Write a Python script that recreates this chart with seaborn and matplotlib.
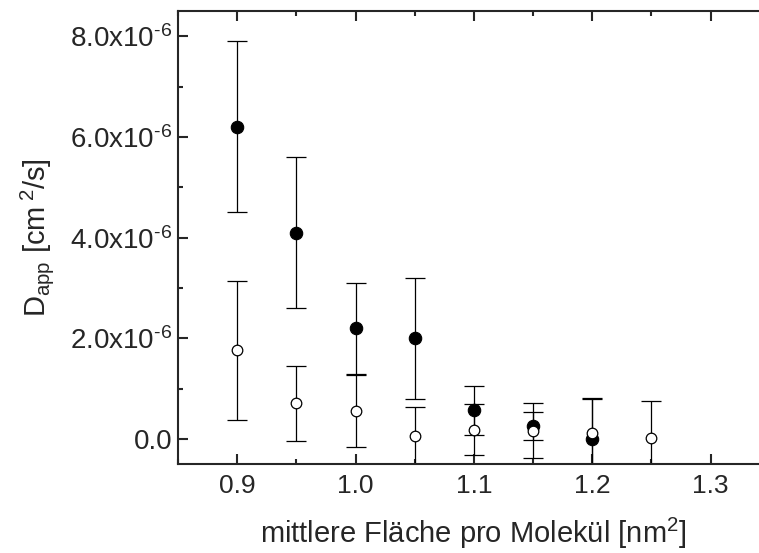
import numpy as np
import pandas as pd
import seaborn as sns
import matplotlib.pyplot as plt

# Werte (D_app in cm^2/s)
flaeche_voll = [0.90, 0.95, 1.00, 1.05, 1.10, 1.15, 1.20]
d_voll = [6.2e-6, 4.1e-6, 2.2e-6, 2.0e-6, 0.57e-6, 0.26e-6, 0.0e-6]
err_voll = [1.7e-6, 1.5e-6, 0.9e-6, 1.2e-6, 0.48e-6, 0.28e-6, 0.8e-6]

flaeche_offen = [0.90, 0.95, 1.00, 1.05, 1.10, 1.15, 1.20, 1.25]
d_offen = [1.76e-6, 0.71e-6, 0.56e-6, 0.06e-6, 0.19e-6, 0.17e-6, 0.13e-6, 0.03e-6]
err_offen = [1.38e-6, 0.74e-6, 0.71e-6, 0.58e-6, 0.51e-6, 0.55e-6, 0.69e-6, 0.73e-6]

x_ticks = [0.9, 1.0, 1.1, 1.2, 1.3]
y_ticks = [0.0, 2e-6, 4e-6, 6e-6, 8e-6]
y_ticklabels = ["0.0", r"2.0x10$^{\text{-}6}$", r"4.0x10$^{\text{-}6}$",
                r"6.0x10$^{\text{-}6}$", r"8.0x10$^{\text{-}6}$"]

df_voll = pd.DataFrame({"x": flaeche_voll, "y": d_voll, "err": err_voll})
df_offen = pd.DataFrame({"x": flaeche_offen, "y": d_offen, "err": err_offen})

sns.set_style("ticks")
plt.rcParams["font.family"] = ["Liberation Sans", "DejaVu Sans"]
plt.rcParams["mathtext.fontset"] = "custom"
plt.rcParams["mathtext.rm"] = "Liberation Sans"
plt.rcParams["mathtext.default"] = "regular"
plt.rcParams["axes.unicode_minus"] = False

fig = plt.figure(figsize=(7.59, 5.53), dpi=100)
ax = fig.add_axes([0.2345, 0.1604, 0.7796, 0.8197])

# Fehlerbalken
for d in (df_voll, df_offen):
    ax.errorbar(d["x"], d["y"], yerr=d["err"], fmt="none", ecolor="black",
                elinewidth=0.9, capsize=7.5, capthick=0.9, zorder=2)

sns.scatterplot(data=df_voll, x="x", y="y", ax=ax, marker="o", s=80,
                color="black", edgecolor="black", linewidth=0.8, zorder=3)
sns.scatterplot(data=df_offen, x="x", y="y", ax=ax, marker="o", s=58,
                facecolor="white", edgecolor="black", linewidth=0.9, zorder=4)

ax.set_xlim(0.85, 1.35)
ax.set_ylim(-0.5e-6, 8.5e-6)
ax.set_xticks(x_ticks)
ax.set_xticklabels([f"{v:.1f}" for v in x_ticks])
ax.set_xticks(np.arange(0.85, 1.351, 0.05), minor=True)
ax.set_yticks(y_ticks)
ax.set_yticklabels(y_ticklabels)
ax.set_yticks(np.arange(-0.0, 8.51e-6, 1e-6), minor=True)

ax.tick_params(which="both", direction="in", top=True, right=True,
               width=1.5, labelsize=19)
ax.tick_params(axis="x", pad=7)
ax.tick_params(axis="y", pad=4, labelsize=20)
ax.tick_params(which="major", length=7)
ax.tick_params(which="minor", length=3.5)
for sp in ax.spines.values():
    sp.set_linewidth(1.5)

ax.set_xlabel(r"mittlere Fläche pro Molekül [nm$^{2}$]", fontsize=21, labelpad=13)
ax.set_ylabel(r"D$_{app}$ [cm$\,^{2}$/s]", fontsize=21, labelpad=10)

fig.savefig("out.png", dpi=100)
